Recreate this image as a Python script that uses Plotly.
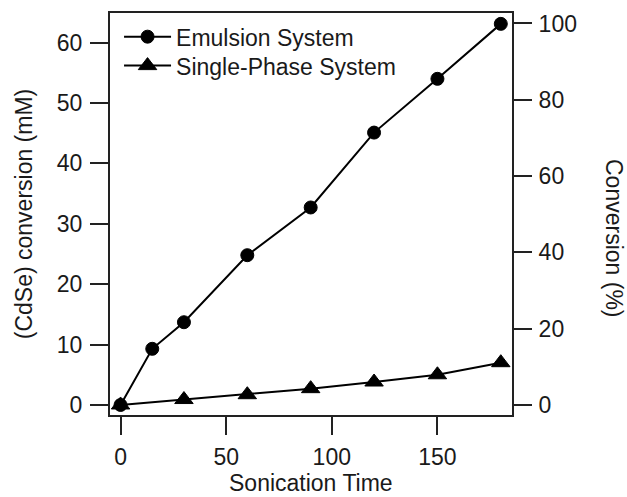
import plotly.graph_objects as go

time_emulsion = [0, 15, 30, 60, 90, 120, 150, 180]
conv_emulsion = [0.0, 9.3, 13.7, 24.8, 32.7, 45.1, 54.0, 63.1]

time_single = [0, 30, 60, 90, 120, 150, 180]
conv_single = [0.0, 0.9, 1.7, 2.7, 3.8, 5.0, 7.0]

x_ticks = [0, 50, 100, 150]
left_ticks = [0, 10, 20, 30, 40, 50, 60]
right_ticks = [0, 20, 40, 60, 80, 100]

FONT = "Liberation Sans, Arial, sans-serif"
INK = "#1a1a1a"
FS = 23

fig = go.Figure()
fig.add_trace(go.Scatter(
    x=time_emulsion, y=conv_emulsion, name="Emulsion System",
    mode="lines+markers", legend="legend",
    line=dict(color="black", width=2),
    marker=dict(symbol="circle", size=13, color="black", line=dict(color="black", width=1)),
))
fig.add_trace(go.Scatter(
    x=time_single, y=conv_single, name="Single-Phase System",
    mode="lines+markers", legend="legend2",
    line=dict(color="black", width=2),
    marker=dict(symbol="triangle-up", size=16, color="black", line=dict(color="black", width=1)),
))
fig.add_trace(go.Scatter(x=[], y=[], yaxis="y2", showlegend=False, hoverinfo="skip"))

axis_common = dict(
    showline=True, linecolor="#222", linewidth=2,
    ticks="outside", ticklen=18, tickwidth=2, tickcolor="#222",
    showgrid=False, zeroline=False, automargin=False,
    tickfont=dict(family=FONT, size=FS, color=INK),
)

legend_common = dict(
    xanchor="left", yanchor="middle",
    bgcolor="rgba(0,0,0,0)", borderwidth=0, itemwidth=47,
    font=dict(family=FONT, size=FS, color=INK),
)

fig.update_layout(
    width=627, height=497,
    margin=dict(l=110, r=115, t=13, b=82),
    paper_bgcolor="white", plot_bgcolor="white",
    font=dict(family=FONT, size=FS, color=INK),
    xaxis=dict(
        range=[-5.0, 185.3], tickvals=x_ticks, mirror=True,
        ticklabelstandoff=2,
        **axis_common,
    ),
    yaxis=dict(
        range=[-1.66, 64.9], tickvals=left_ticks, mirror=True,
        ticklabelstandoff=3,
        title=dict(text="(CdSe) conversion (mM)", font=dict(size=FS), standoff=18),
        **axis_common,
    ),
    yaxis2=dict(
        overlaying="y", side="right", anchor="x",
        range=[-2.62, 102.75], tickvals=right_ticks,
        ticklabelstandoff=2,
        **axis_common,
    ),
    legend=dict(x=0.0225, y=0.941, **legend_common),
    legend2=dict(x=0.0225, y=0.869, **legend_common),
    showlegend=True,
)

fig.add_annotation(
    text="Sonication Time",
    xref="paper", yref="paper", x=0.5, y=0.0,
    xanchor="center", yanchor="middle", yshift=-68, borderpad=0,
    showarrow=False, font=dict(family=FONT, size=FS, color=INK),
)

fig.add_annotation(
    text="Conversion (%)", textangle=90,
    xref="paper", yref="paper", x=1.0, y=0.5,
    xanchor="center", yanchor="middle", xshift=102, yshift=-24,
    showarrow=False, font=dict(family=FONT, size=FS, color=INK),
)

fig.write_html("out.html")
